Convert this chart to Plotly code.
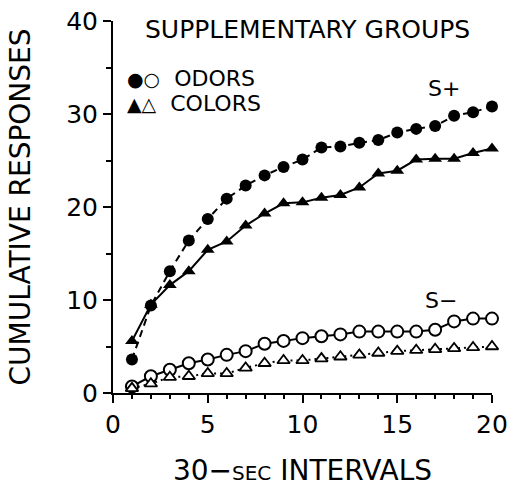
import plotly.graph_objects as go

# 30-second intervals
intervals = list(range(1, 21))

# Cumulative responses, supplementary groups
odors_s_plus = [3.6, 9.4, 13.1, 16.4, 18.7, 20.9, 22.3, 23.4, 24.3, 25.1,
                26.4, 26.5, 26.9, 27.2, 28.0, 28.4, 28.7, 29.8, 30.2, 30.8]
colors_s_plus = [5.6, 9.5, 11.6, 13.1, 15.4, 16.3, 18.0, 19.3, 20.4, 20.5,
                 21.0, 21.3, 22.1, 23.6, 23.9, 25.1, 25.2, 25.2, 25.8, 26.3]
odors_s_minus = [0.7, 1.8, 2.5, 3.2, 3.6, 4.1, 4.5, 5.3, 5.6, 5.9,
                 6.1, 6.3, 6.6, 6.6, 6.6, 6.6, 6.8, 7.7, 8.0, 8.0]
colors_s_minus = [0.5, 1.0, 1.7, 1.8, 2.1, 2.1, 2.7, 3.2, 3.5, 3.5,
                  3.7, 3.9, 4.1, 4.3, 4.5, 4.6, 4.7, 4.8, 4.9, 5.0]

x_ticks = [0, 5, 10, 15, 20]
y_ticks = [0, 10, 20, 30, 40]

FONT = "DejaVu Sans"
INK = "black"

fig = go.Figure()

# S+ curves (filled symbols)
fig.add_trace(go.Scatter(
    x=intervals, y=odors_s_plus, mode="lines+markers", cliponaxis=False,
    line=dict(color=INK, width=2, dash="7px,5px"),
    marker=dict(symbol="circle", size=12, color=INK),
))
fig.add_trace(go.Scatter(
    x=intervals, y=colors_s_plus, mode="lines+markers", cliponaxis=False,
    line=dict(color=INK, width=2),
    marker=dict(symbol="triangle-up", size=12, color=INK),
))

# S- curves (open symbols)
fig.add_trace(go.Scatter(
    x=intervals, y=odors_s_minus, mode="lines+markers", cliponaxis=False,
    line=dict(color=INK, width=2),
    marker=dict(symbol="circle", size=12, color="white",
                line=dict(color=INK, width=2)),
))
fig.add_trace(go.Scatter(
    x=intervals, y=colors_s_minus, mode="lines+markers", cliponaxis=False,
    line=dict(color=INK, width=2, dash="2px,4px"),
    marker=dict(symbol="triangle-up", size=11, color="white",
                line=dict(color=INK, width=1.8)),
))

L, R, T, B = 113, 19, 21, 100
W, H = 511, 493
pw, ph = W - L - R, H - T - B


def px(x):
    return (x - L) / pw


def py(y):
    return (H - B - y) / ph


annotations = [
    dict(text="SUPPLEMENTARY GROUPS", x=px(307), y=py(30),
         font=dict(size=25)),
    dict(text="<span style='font-size:19px'>●○</span>  ODORS", x=px(125), y=py(78),
         xanchor="left", font=dict(size=22)),
    dict(text="<span style='font-size:19px'>▲△</span>  COLORS", x=px(125), y=py(103),
         xanchor="left", font=dict(size=22)),
    dict(text="S+", x=px(444), y=py(89), font=dict(size=22)),
    dict(text="S−", x=px(441), y=py(300), font=dict(size=22)),
]
for a in annotations:
    a.update(xref="paper", yref="paper", showarrow=False,
             yanchor="middle", xanchor=a.get("xanchor", "center"))
    a["font"].update(family=FONT, color=INK)

fig.update_layout(
    width=W, height=H,
    margin=dict(l=L, r=R, t=T, b=B),
    paper_bgcolor="white", plot_bgcolor="white",
    showlegend=False,
    font=dict(family=FONT, color=INK),
    annotations=annotations,
)

fig.update_xaxes(
    range=[0, 20], tickvals=x_ticks, ticktext=[str(v) for v in x_ticks],
    ticks="outside", ticklen=8, tickwidth=2, tickcolor=INK,
    minor=dict(dtick=1, ticks="outside", ticklen=4, tickwidth=1.5, tickcolor=INK),
    showline=True, linecolor=INK, linewidth=2, showgrid=False, zeroline=False,
    tickfont=dict(size=25, family=FONT, color=INK),
    title=dict(text="30−<span style='font-size:20px'>SEC</span> INTERVALS",
               font=dict(size=28, family=FONT, color=INK), standoff=22),
    automargin=False,
)
fig.update_yaxes(
    range=[0, 40], tickvals=y_ticks, ticktext=[str(v) for v in y_ticks],
    ticks="outside", ticklen=8, tickwidth=2, tickcolor=INK,
    minor=dict(tickvals=[5, 15, 25, 35], ticks="outside", ticklen=5,
               tickwidth=1.5, tickcolor=INK),
    showline=True, linecolor=INK, linewidth=2, showgrid=False, zeroline=False,
    tickfont=dict(size=25, family=FONT, color=INK),
    title=dict(text="CUMULATIVE RESPONSES",
               font=dict(size=28, family=FONT, color=INK), standoff=27),
    automargin=False,
)

fig.write_html("out.html")
